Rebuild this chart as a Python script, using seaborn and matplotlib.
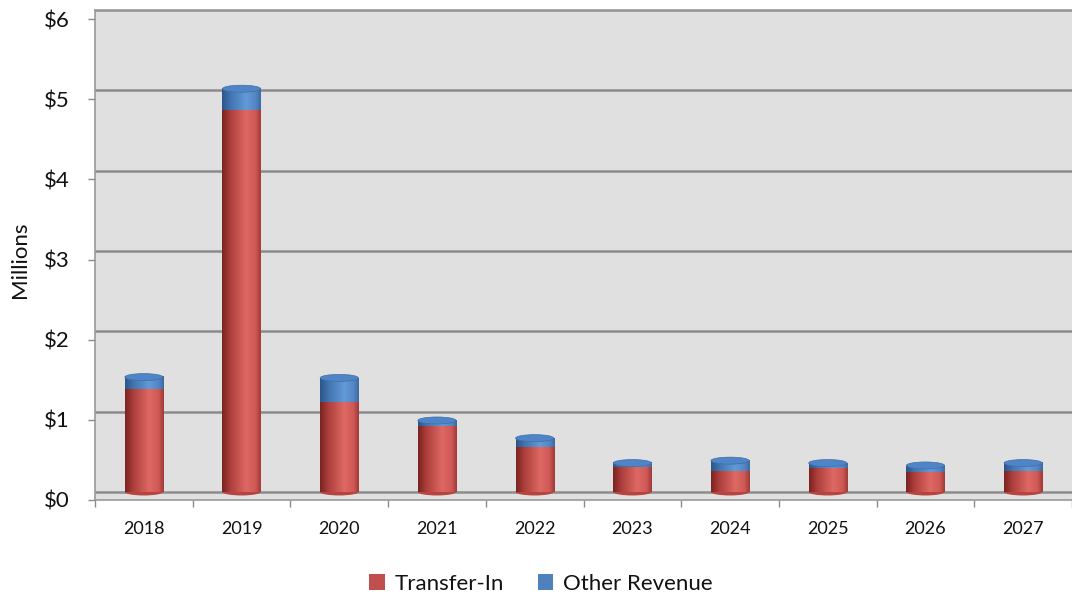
import numpy as np
import pandas as pd
import matplotlib
matplotlib.use("Agg")
import matplotlib.pyplot as plt
from matplotlib.colors import LinearSegmentedColormap
from matplotlib.patches import Ellipse, Patch
import seaborn as sns

# Revenue by year, in millions of dollars
years = ["2018", "2019", "2020", "2021", "2022", "2023", "2024", "2025", "2026", "2027"]
transfer_in = [1.28, 4.75, 1.11, 0.81, 0.55, 0.31, 0.26, 0.29, 0.24, 0.26]
other_revenue = [0.15, 0.27, 0.31, 0.08, 0.12, 0.05, 0.13, 0.07, 0.09, 0.10]
y_ticks = [0, 1, 2, 3, 4, 5, 6]
y_tick_labels = ["$0", "$1", "$2", "$3", "$4", "$5", "$6"]

RED = "#c0504d"
BLUE = "#4f81bd"
GRID = "#8c8c8c"
TEXT = "#111111"

df = pd.DataFrame({"year": years, "transfer_in": transfer_in, "other_revenue": other_revenue})
df["total"] = df["transfer_in"] + df["other_revenue"]

sns.set_theme(style="white")
plt.rcParams["font.family"] = ["Lato", "DejaVu Sans"]
plt.rcParams["text.color"] = TEXT
plt.rcParams["axes.labelcolor"] = TEXT
plt.rcParams["xtick.labelcolor"] = TEXT
plt.rcParams["ytick.labelcolor"] = TEXT

W, H = 1072, 601
fig = plt.figure(figsize=(W / 100, H / 100), dpi=100)

# back wall of the 3-D chart (gridlines and bars live here)
left_px, right_px = 95, 1072
ax = fig.add_axes([left_px / W, (H - 500) / H, (right_px - left_px) / W, 490 / H])
ax.set_facecolor("#e0e0e0")

bar_w = 0.39
n = len(df)
sns.barplot(data=df, x="year", y="total", color=BLUE, width=bar_w, ax=ax,
            saturation=1, errorbar=None, zorder=3)
sns.barplot(data=df, x="year", y="transfer_in", color=RED, width=bar_w, ax=ax,
            saturation=1, errorbar=None, zorder=3)

ax.set_xlim(-0.5, n - 0.5)
ax.set_ylim(-0.1, 6)

# cylinder shading
red_cmap = LinearSegmentedColormap.from_list(
    "redcyl", [(0, "#7a2321"), (0.22, "#ad3f3c"), (0.62, "#de6864"), (0.86, "#cf5956"), (1, "#a03936")])
blue_cmap = LinearSegmentedColormap.from_list(
    "bluecyl", [(0, "#2b5587"), (0.22, "#4274b0"), (0.62, "#6299d7"), (0.86, "#5687c4"), (1, "#3d69a1")])
grad = np.linspace(0, 1, 256).reshape(1, -1)

fig.canvas.draw()
px_per_unit = ax.transData.transform((0, 1))[1] - ax.transData.transform((0, 0))[1]
ell_h = 7.0 / px_per_unit

patches = list(ax.patches)
blue_bars = patches[:n]
red_bars = patches[n:2 * n]

for i in range(n):
    b = blue_bars[i]
    r = red_bars[i]
    x0, w = b.get_x(), b.get_width()
    cx = x0 + w / 2
    tot = b.get_height()
    tr = r.get_height()
    b.set_visible(False)
    r.set_visible(False)
    ax.imshow(grad, cmap=blue_cmap, extent=(x0, x0 + w, tr, tot), aspect="auto", zorder=3)
    ax.imshow(grad, cmap=red_cmap, extent=(x0, x0 + w, 0, tr), aspect="auto", zorder=3)
    ax.add_patch(Ellipse((cx, 0), w, ell_h, facecolor="#b8443f", edgecolor="none", zorder=2.9))
    ax.add_patch(Ellipse((cx, tot), w, ell_h, facecolor="#4f85c6", edgecolor="#3d6ea8",
                         linewidth=0.5, zorder=4))

ax.set_aspect("auto")
ax.set_ylim(-0.1, 6)

ax.set_yticks(y_ticks)
ax.yaxis.grid(True, color=GRID, linewidth=1.8, zorder=1)
ax.set_axisbelow(True)
ax.tick_params(axis="y", left=False, labelleft=False)
ax.set_ylabel("")

ax.set_xticks(range(n))
ax.set_xticklabels(years, fontsize=13)
ax.set_xticks(np.arange(-0.5, n, 1.0), minor=True)
ax.tick_params(axis="x", which="major", length=0, pad=15)
ax.tick_params(axis="x", which="minor", length=5, width=1, color=GRID, direction="out", bottom=True)
ax.set_xlabel("")

for side in ["left", "top", "bottom"]:
    ax.spines[side].set_color("#9a9a9a")
    ax.spines[side].set_linewidth(1.2)
ax.spines["right"].set_visible(False)

# front value axis with the dollar labels
axf = fig.add_axes([left_px / W, (H - 500) / H, (right_px - left_px) / W, 481 / H])
axf.patch.set_visible(False)
axf.set_ylim(0, 6)
axf.set_xticks([])
axf.set_yticks(y_ticks)
axf.set_yticklabels(y_tick_labels, fontsize=16)
axf.tick_params(axis="y", left=True, length=5, width=1, color=GRID, direction="out", pad=13)
for side in axf.spines:
    axf.spines[side].set_visible(False)
axf.set_ylabel("Millions", fontsize=16, labelpad=10)

handles = [Patch(facecolor=RED, edgecolor="none"), Patch(facecolor=BLUE, edgecolor="none")]
fig.legend(handles, ["Transfer-In", "Other Revenue"], loc="center",
           bbox_to_anchor=(541 / W, 1 - 584 / H),
           ncol=2, frameon=False, fontsize=16, handlelength=0.7, handleheight=0.7,
           handletextpad=0.45, columnspacing=1.5)

fig.savefig("out.png", dpi=100)
